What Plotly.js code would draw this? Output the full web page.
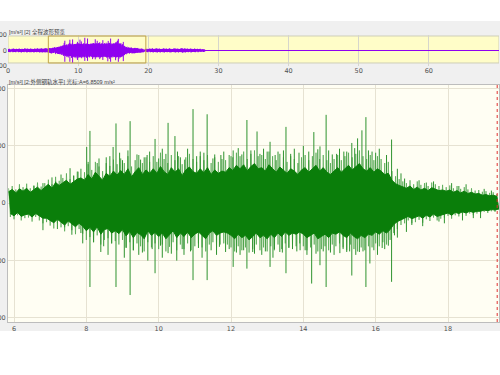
<!DOCTYPE html>
<html><head><meta charset="utf-8">
<script src="https://cdn.plot.ly/plotly-3.0.1.min.js"></script>
<style>html,body{margin:0;padding:0;background:#fff}#c{width:500px;height:375px}</style>
</head><body><div id="c"></div>
<script>
// ---- data (m/s², time in s) ----
const detailStart = 5.85, detailStep = 0.1;
// dense core envelope
const detailHi = [
 20,24,18,25,21,26,19,24,28,22,
 28,33,26,36,31,35,40,33,38,42,
 44,40,50,42,54,46,40,52,47,56,
 49,57,50,60,46,55,62,50,58,52,
 60,52,64,55,50,62,54,60,48,58,
 63,55,52,60,53,62,50,58,52,56,
 54,62,57,66,60,67,56,64,69,60,
 62,56,67,60,54,63,58,52,60,56,
 50,58,62,54,60,66,56,62,54,50,
 56,62,54,60,66,58,64,69,60,56,
 62,54,60,56,50,52,40,34,31,28,
 26,30,24,28,23,26,22,27,24,22,
 23,21,23,19,22,18,21,17,19,16,
 17,14,15,13,14,12];
const detailLo = [
 -18,-22,-16,-23,-20,-19,-24,-18,-22,-26,
 -26,-30,-34,-28,-33,-38,-31,-36,-41,-35,
 -40,-48,-42,-50,-41,-54,-46,-44,-52,-48,
 -53,-46,-57,-49,-60,-51,-55,-62,-48,-56,
 -51,-58,-52,-62,-55,-48,-60,-52,-58,-50,
 -60,-54,-50,-56,-62,-52,-48,-56,-52,-50,
 -52,-56,-62,-54,-60,-56,-64,-58,-52,-60,
 -56,-62,-54,-60,-52,-58,-50,-56,-52,-54,
 -50,-54,-60,-56,-52,-62,-58,-54,-60,-52,
 -54,-50,-56,-60,-52,-58,-62,-56,-60,-54,
 -56,-50,-54,-48,-52,-46,-37,-32,-28,-26,
 -23,-27,-25,-22,-26,-21,-24,-19,-23,-21,
 -19,-17,-21,-16,-18,-15,-17,-14,-16,-14,
 -14,-12,-13,-11,-12,-10];
// lighter oscillation fringe around the core
const outerHi = [
 26,30,24,33,28,34,26,31,36,29,
 35,41,33,46,39,44,52,42,48,55,
 60,54,68,58,72,64,56,70,65,76,
 68,78,70,82,64,75,84,70,80,72,
 82,72,88,77,70,84,75,82,68,80,
 86,77,72,82,75,84,70,80,72,77,
 75,84,80,88,82,90,77,86,92,82,
 84,77,90,82,75,86,80,72,82,77,
 70,80,84,75,82,88,77,84,75,70,
 77,84,75,82,88,80,86,92,82,77,
 84,75,82,77,70,72,56,47,42,38,
 35,40,33,38,32,35,30,36,33,30,
 32,28,31,26,30,25,28,24,26,22,
 23,20,21,18,19,16];
const outerLo = [
 -24,-28,-21,-30,-26,-25,-32,-24,-30,-35,
 -33,-39,-44,-35,-42,-49,-40,-47,-54,-45,
 -53,-64,-59,-68,-56,-72,-64,-61,-70,-66,
 -72,-64,-77,-68,-82,-70,-75,-84,-68,-77,
 -70,-80,-72,-84,-76,-68,-82,-72,-80,-70,
 -82,-75,-70,-77,-84,-72,-68,-77,-72,-70,
 -72,-77,-84,-75,-82,-77,-86,-80,-72,-82,
 -77,-84,-75,-82,-72,-80,-70,-77,-72,-75,
 -70,-75,-82,-77,-72,-84,-80,-75,-82,-72,
 -75,-70,-77,-82,-72,-80,-84,-77,-82,-75,
 -77,-70,-75,-68,-72,-64,-52,-45,-38,-35,
 -30,-35,-33,-29,-34,-28,-31,-25,-30,-27,
 -25,-22,-27,-21,-23,-20,-22,-18,-21,-18,
 -18,-15,-17,-14,-15,-12];
// large peaks
const spikeUpT = [6.55,6.8,7.05,7.3,7.55,7.77,8.01,8.10,8.3,8.55,8.74,8.82,9.0,9.21,9.4,9.6,9.75,9.9,10.1,10.26,10.45,10.6,10.8,10.95,11.15,11.34,11.55,11.8,12.06,12.3,12.44,12.72,12.9,13.08,13.3,13.52,13.75,14.0,14.29,14.46,14.63,14.8,15.0,15.2,15.34,15.5,15.62,15.73,15.9,16.1,16.44,16.6,16.8,17.2,17.6,18.1,18.5,19.0];
const spikeUpV = [30,35,45,50,61,55,98,126,70,80,98,139,75,143,85,80,90,112,95,140,117,80,95,164,90,155,85,90,92,85,145,125,95,107,90,133,95,100,124,99,154,85,95,90,105,113,127,150,90,95,111,60,43,40,38,35,33,25];
const spikeDnT = [6.8,7.2,7.6,7.9,8.10,8.4,8.6,8.82,9.05,9.21,9.45,9.7,9.9,10.1,10.26,10.5,10.7,10.95,11.2,11.34,11.6,11.85,12.06,12.25,12.44,12.6,12.85,13.08,13.16,13.35,13.52,13.7,13.91,14.1,14.23,14.46,14.63,14.85,15.01,15.2,15.34,15.55,15.73,15.84,16.05,16.25,16.44,16.6,16.85,17.3,17.9,18.4,18.9];
const spikeDnV = [-47,-45,-55,-70,-146,-85,-90,-146,-95,-160,-90,-100,-122,-95,-87,-100,-90,-134,-95,-134,-90,-85,-111,-90,-114,-85,-90,-111,-95,-85,-122,-80,-82,-90,-140,-108,-146,-90,-87,-85,-126,-85,-146,-105,-90,-80,-137,-60,-50,-40,-35,-30,-26];
// medium peaks
const fringeT = [7.15,7.4,7.65,7.85,8.05,8.2,8.35,8.48,8.65,8.7,8.92,9.1,9.15,9.3,9.5,9.55,9.68,9.82,10.0,10.05,10.2,10.35,10.52,10.65,10.72,10.88,11.05,11.1,11.25,11.45,11.5,11.68,11.72,11.95,12.0,12.15,12.2,12.35,12.55,12.65,12.8,12.95,13.0,13.2,13.22,13.42,13.45,13.6,13.65,13.82,13.88,14.05,14.15,14.35,14.4,14.55,14.7,14.75,14.92,15.1,15.12,15.28,15.42,15.45,15.65,15.8,15.95,16.0,16.18,16.3,16.35,16.52,16.7,17.0,17.4,17.75,18.3,18.7,19.2];
const fringeV = [38,-42,48,-52,72,-68,78,-75,82,-70,88,-78,92,-82,76,-86,84,-80,78,-74,86,-88,90,-80,76,-84,82,-78,88,-82,78,-76,84,-80,82,-86,96,-82,92,-88,86,-84,90,-80,84,-86,92,-78,86,-84,88,-82,90,-88,94,-84,92,-86,86,-80,90,-84,96,-90,-84,92,-82,88,-78,84,-74,-56,52,-38,36,-32,30,-26,22];

const preStart = 0.0, preStep = 0.2;
const preHi = [18,22,15,20,24,16,21,19,25,17,22,18,26,20,23,17,24,21,19,25,22,27,20,24,28,22,26,30,24,28];
const preLo = [-16,-20,-14,-22,-18,-21,-15,-20,-17,-23,-19,-22,-16,-24,-18,-21,-20,-17,-23,-19,-22,-18,-25,-20,-24,-22,-26,-21,-25,-27];
const postStart = 19.6, postStep = 0.2;
const postHi = [18,22,16,24,20,26,19,23,28,21,25,18,22,27,20,24,19,26,22,18,23,28,21,25,19,24,30,22,26,20,23,18,25,21,19,24,17,22,16,20,15,18,12];
const postLo = [-16,-20,-14,-22,-18,-24,-17,-21,-26,-19,-23,-17,-20,-25,-18,-22,-17,-24,-20,-16,-21,-26,-19,-23,-17,-22,-28,-20,-24,-18,-21,-16,-23,-19,-17,-22,-15,-20,-14,-18,-13,-16,-10];
const recordEnd = 28.0, previewEnd = 70;

const previewXTicks = [0,10,20,30,40,50,60,70];
const previewYTicks = [-200,0,200];
const detailXTicks = [6,8,10,12,14,16,18];
const detailYTicks = [-200,-100,0,100,200];
const selStart = 5.75, selEnd = 19.65;
const cursorT = 19.36;
const cursorValue = '6.8509';
const previewTitle = '[m/s²] [2] 全程波形预览';
const detailTitle = '[m/s²] [2:外侧钢轨水平] 光标:A=' + cursorValue + ' m/s²';

// ---- builders ----
function zig(t0, dt, hi, lo) {
  const x = [], y = [];
  for (let i = 0; i < hi.length; i++) {
    const t = t0 + i * dt;
    x.push(t, t + dt / 2); y.push(hi[i], lo[i]);
  }
  return {x, y};
}
function band(t0, dt, hi, lo) {
  const x = [], y = [];
  hi.forEach((v, i) => { x.push(t0 + i * dt); y.push(v); });
  for (let i = lo.length - 1; i >= 0; i--) { x.push(t0 + i * dt + dt / 2); y.push(lo[i]); }
  return {x, y};
}
function sticks(ts, vs) {
  const x = [], y = [];
  ts.forEach((t, i) => { x.push(t, t, null); y.push(0, vs[i], null); });
  return {x, y};
}
const oz = zig(detailStart, detailStep, outerHi, outerLo);
const core = band(detailStart, detailStep, detailHi, detailLo);
const pz = zig(preStart, preStep, preHi, preLo);
const qz = zig(postStart, postStep, postHi, postLo);
const up = sticks(spikeUpT, spikeUpV), dn = sticks(spikeDnT, spikeDnV), fr = sticks(fringeT, fringeV);
const allSticksX = [].concat(up.x, dn.x, fr.x), allSticksY = [].concat(up.y, dn.y, fr.y);

const GREEN = '#0a7e0a', GREEN2 = '#2f932f', GREEN3 = '#3a9c3a', PURPLE = '#9000f0';
const ovX = [].concat(pz.x, oz.x, qz.x, [recordEnd, previewEnd]);
const ovY = [].concat(pz.y, oz.y, qz.y, [0, 0]);

const traces = [
  {x: ovX, y: ovY, xaxis:'x', yaxis:'y', mode:'lines', line:{color:PURPLE, width:1.2}, hoverinfo:'skip'},
  {x: allSticksX, y: allSticksY, xaxis:'x', yaxis:'y', mode:'lines', line:{color:PURPLE, width:1}, hoverinfo:'skip'},
  {x: oz.x, y: oz.y, xaxis:'x2', yaxis:'y2', mode:'lines', line:{color:GREEN3, width:0.6}, hoverinfo:'skip'},
  {x: allSticksX, y: allSticksY, xaxis:'x2', yaxis:'y2', mode:'lines', line:{color:GREEN2, width:1}, hoverinfo:'skip'},
  {x: core.x, y: core.y, xaxis:'x2', yaxis:'y2', mode:'lines', fill:'toself', fillcolor:GREEN, line:{color:GREEN, width:1}, hoverinfo:'skip'}
];

const H = 375;
const fy = px => 1 - px / H;
const tickFont = {size:6.5, color:'#505050', family:'DejaVu Sans, Noto Sans CJK SC'};
const titleFont = {size:5.5, color:'#404040', family:'Liberation Sans, Noto Sans CJK SC'};
const layout = {
  width:500, height:375,
  margin:{l:8, r:1, t:0, b:0},
  paper_bgcolor:'#f0f0f0', plot_bgcolor:'rgba(0,0,0,0)',
  showlegend:false,
  font:{family:'DejaVu Sans, Noto Sans CJK SC', size:7, color:'#505050'},
  xaxis:{domain:[0,1], anchor:'free', position:fy(65.5), range:[0, previewEnd], tickvals:previewXTicks, ticks:'',
         showgrid:true, gridcolor:'#d6d6cc', zeroline:false, showline:false, tickfont:tickFont, automargin:false},
  yaxis:{domain:[fy(66), fy(35)], anchor:'x', range:[-200,200], tickvals:previewYTicks, ticks:'', showgrid:false,
         zeroline:false, showline:false, tickfont:tickFont, automargin:false},
  xaxis2:{domain:[0,1], anchor:'y2', range:[5.834, 19.41], tickvals:detailXTicks, ticks:'',
          showgrid:true, gridcolor:'#e6e2d2', zeroline:false, showline:true, mirror:true,
          linecolor:'#bdbdbd', linewidth:1, tickfont:tickFont, automargin:false},
  yaxis2:{domain:[fy(322), fy(85)], anchor:'x2', range:[-207,206], tickvals:detailYTicks, ticks:'', showgrid:true,
          gridcolor:'#e6e2d2', zeroline:false, showline:true, mirror:true, linecolor:'#bdbdbd', linewidth:1,
          tickfont:tickFont, automargin:false},
  shapes:[
    {type:'rect', xref:'x', yref:'y', x0:0, x1:previewEnd, y0:-161, y1:187, fillcolor:'#fffdc8',
     line:{color:'#cfcfb8', width:1}, layer:'below'},
    {type:'rect', xref:'x2 domain', yref:'y2 domain', x0:0, x1:1, y0:0, y1:1, fillcolor:'#fffef3',
     line:{width:0}, layer:'below'},
    {type:'rect', xref:'x', yref:'y', x0:selStart, x1:selEnd, y0:-161, y1:187, fillcolor:'rgba(0,0,0,0)',
     line:{color:'#c2a446', width:1}, layer:'above'},
    {type:'line', xref:'x2', yref:'y2 domain', x0:cursorT, x1:cursorT, y0:0, y1:1,
     line:{color:'#e03030', width:1, dash:'dot'}, layer:'above'},
    {type:'rect', xref:'paper', yref:'paper', x0:-0.1, x1:1.1, y0:fy(21), y1:1.1, fillcolor:'#ffffff',
     line:{width:0}, layer:'above'},
    {type:'rect', xref:'paper', yref:'paper', x0:-0.1, x1:1.1, y0:-0.1, y1:fy(331), fillcolor:'#ffffff',
     line:{width:0}, layer:'above'}
  ],
  annotations:[
    {text:previewTitle, xref:'paper', yref:'paper', x:-0.002, y:fy(32), xanchor:'left', yanchor:'middle',
     showarrow:false, font:titleFont},
    {text:detailTitle, xref:'paper', yref:'paper', x:-0.002, y:fy(82.5), xanchor:'left', yanchor:'middle',
     showarrow:false, font:titleFont}
  ]
};
Plotly.newPlot('c', traces, layout, {staticPlot:true, displayModeBar:false});
</script></body></html>
